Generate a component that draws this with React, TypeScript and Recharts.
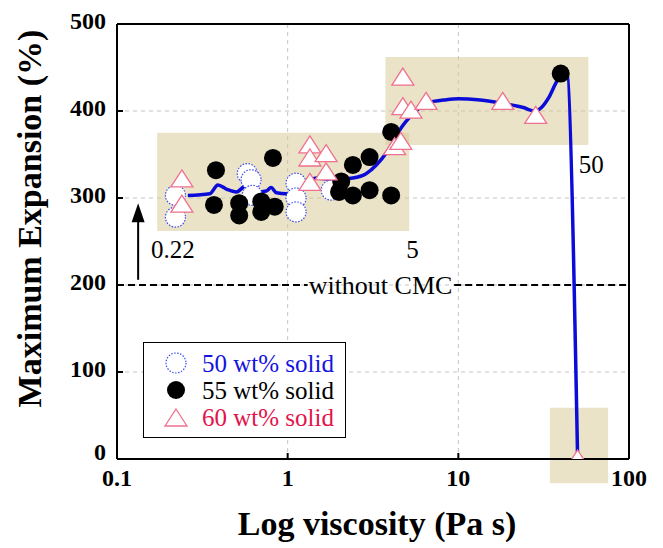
import React from 'react';
import {
  ComposedChart,
  XAxis,
  YAxis,
  CartesianGrid,
  Line,
  Scatter,
  ReferenceArea,
  ReferenceLine,
  ReferenceDot,
  Legend,
  Label,
} from 'recharts';

const FONT = '"Liberation Serif", "Times New Roman", Times, serif';

const xTicks = [0.1, 1, 10, 100];
const yTicks = [0, 100, 200, 300, 400, 500];

const solid50 = [
  { x: 0.22, y: 303 }, { x: 0.22, y: 278 }, { x: 0.58, y: 328 }, { x: 0.61, y: 321 },
  { x: 0.62, y: 303 }, { x: 1.12, y: 317 }, { x: 1.12, y: 300 }, { x: 1.12, y: 284 },
  { x: 1.8, y: 309 },
];

const solid55 = [
  { x: 0.38, y: 332 }, { x: 0.37, y: 292 }, { x: 0.52, y: 294 }, { x: 0.52, y: 280 },
  { x: 0.7, y: 296 }, { x: 0.7, y: 284 }, { x: 0.84, y: 290 }, { x: 0.82, y: 346 },
  { x: 2.06, y: 319 }, { x: 2.0, y: 307 }, { x: 2.41, y: 338 }, { x: 2.41, y: 303 },
  { x: 3.02, y: 347 }, { x: 3.02, y: 309 }, { x: 4.04, y: 303 }, { x: 4.04, y: 376 },
  { x: 39.8, y: 443 },
];

const solid60 = [
  { x: 0.24, y: 322 }, { x: 0.24, y: 293 }, { x: 1.35, y: 361 }, { x: 1.35, y: 346 },
  { x: 1.35, y: 318 }, { x: 1.68, y: 351 }, { x: 1.68, y: 330 }, { x: 4.23, y: 359 },
  { x: 4.6, y: 365 }, { x: 4.73, y: 439 }, { x: 4.73, y: 405 }, { x: 5.28, y: 401 },
  { x: 6.47, y: 411 }, { x: 18.2, y: 411 }, { x: 28.4, y: 395 }, { x: 50, y: 0 },
];

const fitCurve = [
  { x: 0.26, y: 303 }, { x: 0.35, y: 305 }, { x: 0.39, y: 315 }, { x: 0.44, y: 310 },
  { x: 0.5, y: 307 }, { x: 0.57, y: 314 }, { x: 0.66, y: 307 }, { x: 0.75, y: 308 },
  { x: 0.8, y: 312 }, { x: 0.86, y: 306 }, { x: 0.98, y: 305 }, { x: 1.15, y: 308 },
  { x: 1.47, y: 323 }, { x: 1.84, y: 321 }, { x: 2.41, y: 323 }, { x: 2.88, y: 328 },
  { x: 3.31, y: 338 }, { x: 3.79, y: 352 }, { x: 4.2, y: 366 }, { x: 4.6, y: 380 },
  { x: 5.2, y: 393 }, { x: 5.8, y: 402 }, { x: 6.5, y: 409 }, { x: 8.5, y: 413 },
  { x: 10, y: 414 }, { x: 13, y: 413 }, { x: 18, y: 409 }, { x: 24, y: 404 },
  { x: 28, y: 400 }, { x: 31, y: 405 }, { x: 34, y: 416 }, { x: 38, y: 435 },
  { x: 43, y: 445 }, { x: 50, y: 0 },
];

const shadedRegions = [
  { x1: 0.172, x2: 5.16, y1: 262, y2: 375 },
  { x1: 3.74, x2: 57.8, y1: 361, y2: 462 },
  { x1: 34.4, x2: 75.4, y1: -28, y2: 59 },
];

const withoutCMC = 200;
const baselineSegments = [
  [0.1, 1.31],
  [9.45, 100],
];

const annotations = [
  { x: 0.2126, y: 240, text: '0.22' },
  { x: 5.38, y: 240, text: '5' },
  { x: 60, y: 338, text: '50' },
  { x: 3.5, y: 200, text: 'without CMC' },
];

const arrow = { x: 0.133, from: 206, to: 294 };

const legendItems = [
  { label: '50 wt% solid', color: '#1414e0', kind: 'open' },
  { label: '55 wt% solid', color: '#000000', kind: 'filled' },
  { label: '60 wt% solid', color: '#e3134b', kind: 'tri' },
];

const OpenCircle = (p: any) => (
  <circle cx={p.cx} cy={p.cy} r={10} fill="#fff" stroke="#3a4cf0" strokeWidth={1.2} strokeDasharray="1.5 1.5" />
);
const FilledCircle = (p: any) => <circle cx={p.cx} cy={p.cy} r={9} fill="#000" />;
const Triangle = (p: any) => (
  <path
    d={`M${p.cx},${p.cy - 9} L${p.cx + 11},${p.cy + 8} L${p.cx - 11},${p.cy + 8} Z`}
    fill="#fff"
    stroke="#f0708f"
    strokeWidth={1.3}
  />
);

const XTick = (p: any) => (
  <text x={p.x} y={p.y} dy="0.71em" textAnchor="middle" fontFamily={FONT} fontWeight="bold" fontSize={24} fill="#000">
    {p.payload.value}
  </text>
);
const YTick = (p: any) => (
  <text
    x={p.x}
    y={p.y + (p.payload.value === 0 ? -7 : -3)}
    dy="0.35em"
    textAnchor="end"
    fontFamily={FONT}
    fontWeight="bold"
    fontSize={24}
    fill="#000"
  >
    {p.payload.value}
  </text>
);

const XTitle = (p: any) => {
  const vb = p.viewBox;
  return (
    <text x={vb.x + vb.width / 2 + 4} y={vb.y + 76} textAnchor="middle" fontFamily={FONT} fontWeight="bold" fontSize={34} fill="#000">
      Log viscosity (Pa s)
    </text>
  );
};
const YTitle = (p: any) => {
  const vb = p.viewBox;
  const cx = vb.x + 41;
  const cy = vb.y + vb.height / 2 - 23;
  return (
    <text x={cx} y={cy} transform={`rotate(-90, ${cx}, ${cy})`} textAnchor="middle" fontFamily={FONT} fontWeight="bold" fontSize={34} fill="#000">
      Maximum Expansion (%)
    </text>
  );
};

const LegendBox = () => (
  <div
    style={{
      position: 'relative',
      width: 203,
      height: 96,
      boxSizing: 'border-box',
      border: '1.5px solid #000',
      background: '#fff',
      fontFamily: FONT,
      fontSize: 25,
    }}
  >
    {legendItems.map((it, i) => (
      <div key={it.label} style={{ position: 'absolute', left: 0, top: 7 + i * 27, height: 27, width: 200 }}>
        <svg width={26} height={26} style={{ position: 'absolute', left: 19, top: 0 }}>
          {it.kind === 'open' && <OpenCircle cx={13} cy={13} />}
          {it.kind === 'filled' && <FilledCircle cx={13} cy={13} />}
          {it.kind === 'tri' && <Triangle cx={13} cy={14} />}
        </svg>
        <span style={{ position: 'absolute', left: 58, top: 0, lineHeight: '27px', color: it.color, whiteSpace: 'nowrap' }}>
          {it.label}
        </span>
      </div>
    ))}
  </div>
);

const AnnotationText = (text: string) => (p: any) => (
  <text x={p.cx} y={p.cy} dy="0.33em" textAnchor="middle" fontFamily={FONT} fontSize={text.length > 5 ? 26 : 25} fill="#000">
    {text}
  </text>
);

const ArrowShape = (p: any) => {
  const x = p.x1;
  const yBottom = Math.max(p.y1, p.y2);
  const yTop = Math.min(p.y1, p.y2);
  return (
    <g>
      <line x1={x} y1={yBottom} x2={x} y2={yTop + 16} stroke="#000" strokeWidth={2} />
      <path d={`M${x},${yTop} L${x + 6.5},${yTop + 19} L${x - 6.5},${yTop + 19} Z`} fill="#000" />
    </g>
  );
};

export default function App() {
  return (
    <div style={{ position: 'absolute', left: 0, top: 0, width: 663, height: 548, background: '#fff' }}>
      <ComposedChart width={663} height={548} margin={{ top: 0, right: 0, bottom: 0, left: 0 }}>
        {shadedRegions.map((r, i) => (
          <ReferenceArea
            key={i}
            x1={r.x1}
            x2={r.x2}
            y1={r.y1}
            y2={r.y2}
            fill="#d6c78f"
            fillOpacity={0.5}
            stroke="none"
            ifOverflow="visible"
          />
        ))}
        <CartesianGrid stroke="#c4c4c4" strokeDasharray="4 4" />
        <XAxis
          dataKey="x"
          type="number"
          scale="log"
          domain={[0.1, 100]}
          ticks={xTicks}
          allowDataOverflow
          height={89}
          tickSize={-6}
          tickMargin={16}
          tick={<XTick />}
          axisLine={{ stroke: '#000', strokeWidth: 2 }}
          tickLine={{ stroke: '#000', strokeWidth: 2 }}
        >
          <Label content={<XTitle />} />
        </XAxis>
        <XAxis
          xAxisId="t"
          orientation="top"
          type="number"
          scale="log"
          domain={[0.1, 100]}
          ticks={xTicks}
          allowDataOverflow
          height={24}
          tickSize={-6}
          tick={false}
          axisLine={{ stroke: '#000', strokeWidth: 2 }}
          tickLine={{ stroke: '#000', strokeWidth: 2 }}
        />
        <YAxis
          dataKey="y"
          type="number"
          domain={[0, 500]}
          ticks={yTicks}
          allowDataOverflow
          width={117}
          tickSize={-6}
          tickMargin={17}
          tick={<YTick />}
          axisLine={{ stroke: '#000', strokeWidth: 2 }}
          tickLine={{ stroke: '#000', strokeWidth: 2 }}
        >
          <Label content={<YTitle />} />
        </YAxis>
        <YAxis
          yAxisId="r"
          orientation="right"
          type="number"
          domain={[0, 500]}
          ticks={yTicks}
          allowDataOverflow
          width={34}
          tickSize={-6}
          tick={false}
          axisLine={{ stroke: '#000', strokeWidth: 2 }}
          tickLine={{ stroke: '#000', strokeWidth: 2 }}
        />
        {baselineSegments.map((s, i) => (
          <ReferenceLine
            key={i}
            segment={[
              { x: s[0], y: withoutCMC },
              { x: s[1], y: withoutCMC },
            ]}
            stroke="#000"
            strokeWidth={2}
            strokeDasharray="7 4"
          />
        ))}
        <ReferenceLine
          segment={[
            { x: arrow.x, y: arrow.from },
            { x: arrow.x, y: arrow.to },
          ]}
          shape={ArrowShape}
        />
        {annotations.map((a) => (
          <ReferenceDot key={a.text} x={a.x} y={a.y} r={0} shape={AnnotationText(a.text)} ifOverflow="visible" />
        ))}
        <Line
          data={fitCurve}
          dataKey="y"
          type="monotone"
          stroke="#0c0cd9"
          strokeWidth={3.5}
          dot={false}
          isAnimationActive={false}
          legendType="none"
        />
        <Scatter data={solid50} name="50 wt% solid" shape={OpenCircle} isAnimationActive={false} />
        <Scatter data={solid55} name="55 wt% solid" shape={FilledCircle} isAnimationActive={false} />
        <Scatter data={solid60} name="60 wt% solid" shape={Triangle} isAnimationActive={false} />
        <Legend
          layout="horizontal"
          verticalAlign="middle"
          align="center"
          wrapperStyle={{ left: 143, top: 342, width: 203, height: 96 }}
          content={() => <LegendBox />}
        />
      </ComposedChart>
    </div>
  );
}
